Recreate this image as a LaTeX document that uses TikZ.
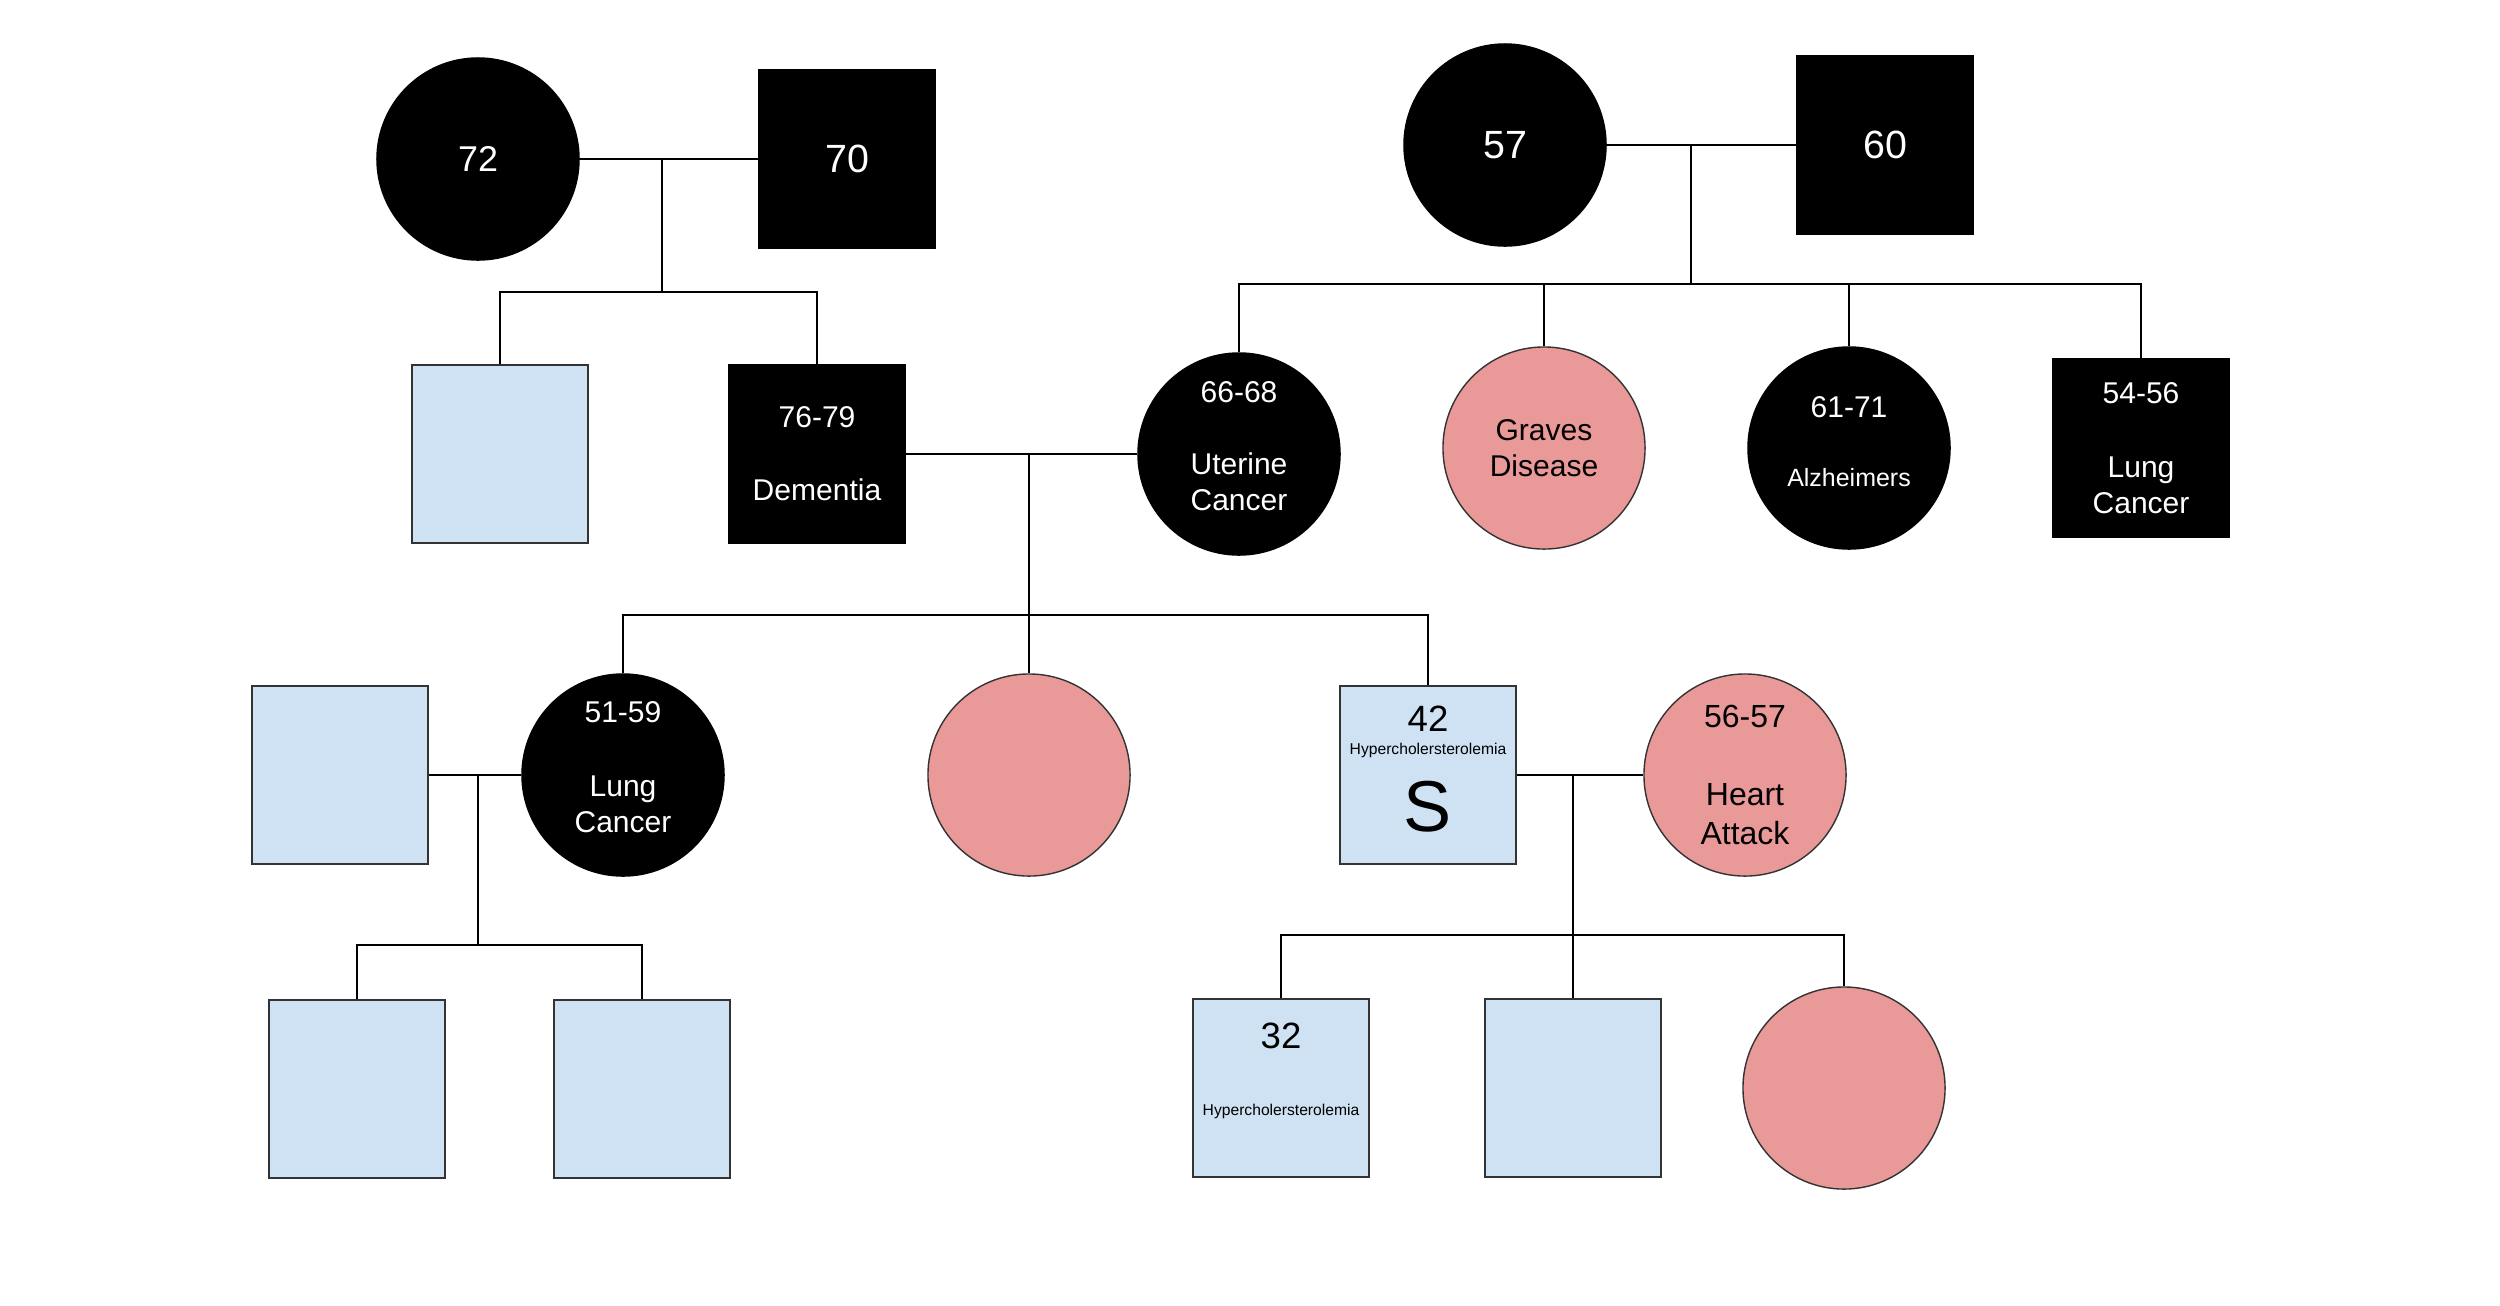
\documentclass[tikz,border=0pt]{standalone}
\usepackage{fontspec}
\setmainfont{Liberation Sans}
\usetikzlibrary{calc}
\definecolor{paleblue}{HTML}{CFE2F3}
\definecolor{palered}{HTML}{EA9999}
\newcommand\fsmall{\fontsize{8.54}{10.24}\selectfont}
\newcommand\fbig{\fontsize{11.2}{13.4}\selectfont}
\newcommand\fmid{\fontsize{9.1}{11.1}\selectfont}
\newcommand\ftiny{\fontsize{4.45}{5.3}\selectfont}
\newcommand\fhuge{\fontsize{20.5}{24}\selectfont}

\begin{document}
\begin{tikzpicture}[%
    x=0.01cm, y=-0.01cm,        % one unit is one pixel, y grows downwards
    every node/.style={inner sep=0pt},
    ]
% -------------------------------------------------
% Person styles
\tikzset{
  base/.style={draw, align=center, font=\fsmall},
  female/.style={base, circle, minimum size=2.02cm},
  male/.style={base, rectangle, minimum width=1.76cm, minimum height=1.78cm},
  affected/.style={fill=black, text=white},
  well/.style={draw=black!80, text=black},
  wellm/.style={well, fill=paleblue},
  wellf/.style={well, fill=palered},
  % Connector lines
  norm/.style={draw, line width=0.5pt},
}
\fill[white] (0,0) rectangle (2500,1305);
\useasboundingbox (0,0) rectangle (2500,1305);
% -------------------------------------------------
% Grandparents
\node [female, affected, font=\fontsize{10.2}{12}\selectfont] (gma1) at (478,159) {72};
\node [male, affected, font=\fbig] (gpa1) at (847,159) {70};
\node [female, affected, font=\fbig] (gma2) at (1505,145) {57};
\node [male, affected, font=\fbig] (gpa2) at (1885,145) {60};
% Parents and their siblings
\node [male, wellm] (uncle) at (500,454) {};
\node [male, affected] (dad) at (817,454) {76-79\\[10.5pt]Dementia};
\node [female, affected, text depth=4.5pt] (mom) at (1239,454) {66-68\\[10.2pt]Uterine\\Cancer};
\node [female, wellf] (aunt2) at (1544,448) {Graves\\Disease};
\node [female, affected, text depth=3.7pt] (aunt3) at (1849,448)
  {61-71\\[9.4pt]{\fontsize{7.1}{8.5}\selectfont Alzheimers}};
\node [male, affected] (uncle2) at (2141,448) {54-56\\[10.8pt]Lung\\Cancer};
% Proband's generation
\node [male, wellm] (inlaw) at (340,775) {};
\node [female, affected, text depth=4.5pt] (sis1) at (623,775) {51-59\\[10.8pt]Lung\\Cancer};
\node [female, wellf] (sis2) at (1029,775) {};
\node [male, wellm] (self) at (1428,775) {};
\node [female, wellf, font=\fmid] (wife) at (1745,775) {56-57\\[11.1pt]Heart\\Attack};
\node [font=\fontsize{10.4}{12}\selectfont] (selfage) at ($(self)+(0,-56)$) {42};
\node [font=\ftiny] (selfdx) at ($(self)+(0,-25)$) {Hypercholersterolemia};
\node [font=\fhuge] (selfs) at ($(self)+(0,32)$) {S};
% Children
\node [male, wellm] (nep1) at (357,1089) {};
\node [male, wellm] (nep2) at (642,1089) {};
\node [male, wellm] (son1) at (1281,1088) {};
\node [male, wellm] (son2) at (1573,1088) {};
\node [female, wellf] (dau) at (1844,1088) {};
\node [font=\fontsize{10.4}{12}\selectfont] (sonage) at ($(son1)+(0,-52)$) {32};
\node [font=\ftiny] (sondx) at ($(son1)+(0,23)$) {Hypercholersterolemia};

% -------------------------------------------------
% Couples and sibships
\coordinate (k1) at (662,292);
\draw [norm] (gma1) -- (gpa1);
\draw [norm] (k1 |- gma1) -- (k1);
\draw [norm] (uncle) |- (k1) -| (dad);

\coordinate (k2) at (1691,284);
\draw [norm] (gma2) -- (gpa2);
\draw [norm] (k2 |- gma2) -- (k2);
\draw [norm] (mom) |- (k2) -| (uncle2);
\draw [norm] (aunt2) -- (aunt2 |- k2);
\draw [norm] (aunt3) -- (aunt3 |- k2);

\coordinate (k3) at (1029,615);
\draw [norm] (dad) -- (mom);
\draw [norm] (k3 |- dad) -- (sis2);
\draw [norm] (sis1) |- (k3) -| (self);

\coordinate (k4) at (478,945);
\draw [norm] (inlaw) -- (sis1);
\draw [norm] (k4 |- inlaw) -- (k4);
\draw [norm] (nep1) |- (k4) -| (nep2);

\coordinate (k5) at (1573,935);
\draw [norm] (self) -- (wife);
\draw [norm] (k5 |- self) -- (son2);
\draw [norm] (son1) |- (k5) -| (dau);
% -------------------------------------------------
\end{tikzpicture}
\end{document}
